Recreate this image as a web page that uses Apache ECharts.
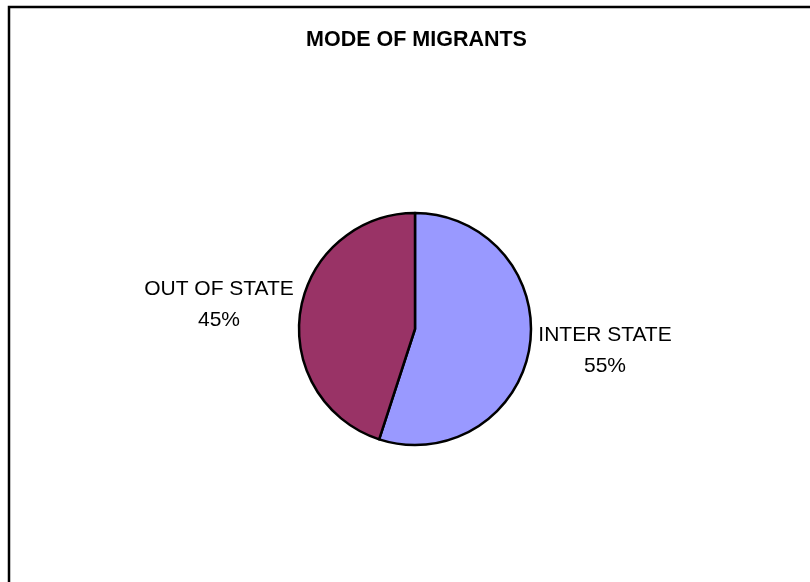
<!DOCTYPE html>
<html>
<head>
<meta charset="utf-8">
<script src="https://cdn.jsdelivr.net/npm/echarts@6/dist/echarts.min.js"></script>
<style>
  html, body { margin: 0; padding: 0; background: #fff; }
  #main { width: 810px; height: 582px; }
</style>
</head>
<body>
<div id="main"></div>
<script>
  // data
  const categories = ['INTER STATE', 'OUT OF STATE'];
  const shares = [55, 45];
  const sliceColors = ['#9999FF', '#993366'];

  // where Excel put the two labels (text centre)
  const labelSpots = [[605, 351], [219, 305]];

  const myChart = echarts.init(document.getElementById('main'));
  myChart.setOption({
    backgroundColor: '#fff',
    animation: false,
    title: {
      text: 'MODE OF MIGRANTS',
      left: 301,
      top: 24,
      textStyle: {
        fontFamily: 'Liberation Sans, Arial',
        fontWeight: 'bold',
        fontSize: 21.5,
        color: '#000'
      }
    },
    graphic: [{
      type: 'rect',
      shape: { x: 9, y: 7, width: 1000, height: 1000 },
      style: { fill: 'none', stroke: '#000', lineWidth: 2.5 },
      silent: true
    }],
    series: [{
      type: 'pie',
      center: [415, 329],
      radius: 116,
      startAngle: 90,
      clockwise: true,
      itemStyle: { borderColor: '#000', borderWidth: 2.5 },
      labelLine: { show: false },
      label: {
        show: true,
        position: 'outside',
        formatter: '{b}\n{d}%',
        fontFamily: 'Liberation Sans, Arial',
        fontSize: 21,
        lineHeight: 31,
        color: '#000'
      },
      labelLayout: function (params) {
        const p = labelSpots[params.dataIndex];
        return { x: p[0], y: p[1], align: 'center', verticalAlign: 'middle' };
      },
      data: categories.map(function (name, i) {
        return { name: name, value: shares[i], itemStyle: { color: sliceColors[i] } };
      })
    }]
  });
</script>
</body>
</html>
